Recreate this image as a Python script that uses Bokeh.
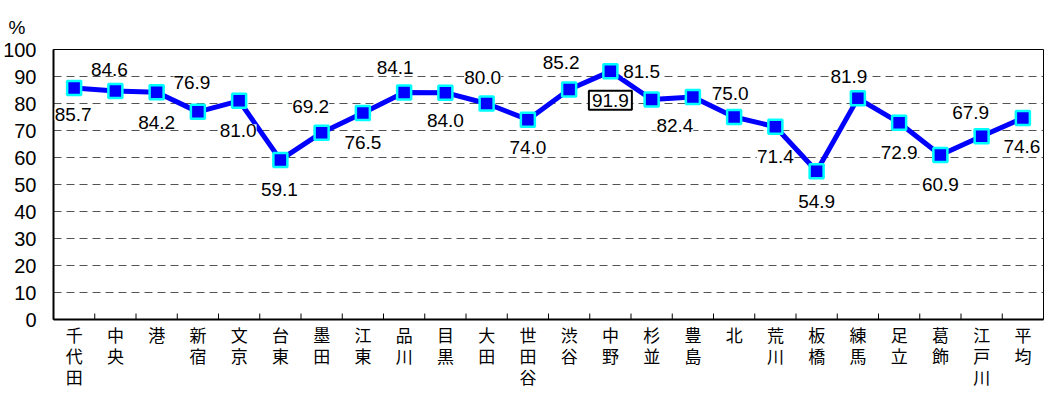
from bokeh.plotting import figure
from bokeh.models import ColumnDataSource, LabelSet, Label, Range1d, FixedTicker, LinearAxis
from bokeh.core.properties import value
from bokeh.embed import file_html
from bokeh.resources import INLINE

# ---- data ----
wards = ["千代田", "中央", "港", "新宿", "文京", "台東", "墨田", "江東", "品川", "目黒",
         "大田", "世田谷", "渋谷", "中野", "杉並", "豊島", "北", "荒川", "板橋", "練馬",
         "足立", "葛飾", "江戸川", "平均"]
rates = [85.7, 84.6, 84.2, 76.9, 81.0, 59.1, 69.2, 76.5, 84.1, 84.0,
         80.0, 74.0, 85.2, 91.9, 81.5, 82.4, 75.0, 71.4, 54.9, 81.9,
         72.9, 60.9, 67.9, 74.6]
y_ticks = [0, 10, 20, 30, 40, 50, 60, 70, 80, 90, 100]
y_unit = "%"
highlight = "中野"

# label placement (pixels, relative to point; positive dy = below)
label_dx = [-1, -6, 0, -6, -1, -1, -11, 0, -9, 0, -4, 0, -8, 0, -10, -18, -4, 0, 0, -9, 0, 0, -11, -1]
label_dy = [26, -22, 30, -29, 30, 30, -26, 30, -25, 28, -26, 28, -27, 29, -28, 28, -24, 30, 30, -22, 30, 29, -24, 28]

n = len(wards)
xs = [i + 0.5 for i in range(n)]

p = figure(width=1045, height=391, output_backend="svg", toolbar_location=None,
           x_range=Range1d(0, n), y_range=Range1d(0, 100),
           min_border_left=52, min_border_right=2, min_border_top=49, min_border_bottom=70)
p.background_fill_color = "white"
p.border_fill_color = "white"
p.outline_line_color = "#000000"
p.outline_line_width = 1

p.title.text = y_unit
p.title.align = "left"
p.title.offset = -45
p.title.standoff = 23
p.title.text_font = "Liberation Sans"
p.title.text_font_size = "19px"
p.title.text_font_style = "normal"
p.title.text_color = "black"

# grid
p.xgrid.visible = False
p.ygrid.ticker = FixedTicker(ticks=y_ticks)
p.ygrid.grid_line_color = "#555555"
p.ygrid.grid_line_dash = "8 5"
p.ygrid.grid_line_width = 1

# y axis
p.yaxis.ticker = FixedTicker(ticks=y_ticks)
p.yaxis.axis_line_width = 2
p.yaxis.axis_line_color = "black"
p.yaxis.major_tick_line_color = None
p.yaxis.minor_tick_line_color = None
p.yaxis.major_tick_out = 0
p.yaxis.major_tick_in = 0
p.yaxis.minor_tick_out = 0
p.yaxis.major_label_text_font = "Liberation Sans"
p.yaxis.major_label_text_font_size = "20px"
p.yaxis.major_label_text_color = "black"
p.yaxis.major_label_standoff = 17

# x axis: vertical labels, one axis row per character
def char_at(w, k):
    return w[k] if len(w) > k else " "

def style_x(ax, k, standoff):
    ax.ticker = FixedTicker(ticks=xs)
    ax.major_label_overrides = {x: char_at(w, k) for x, w in zip(xs, wards)}
    ax.major_tick_line_color = None
    ax.minor_tick_line_color = None
    ax.major_tick_out = 0
    ax.major_tick_in = 0
    ax.minor_tick_out = 0
    ax.minor_tick_in = 0
    ax.major_label_text_font = "Noto Sans CJK JP"
    ax.major_label_text_font_size = "17px"
    ax.major_label_text_color = "black"
    ax.major_label_standoff = standoff

ax1 = p.xaxis[0]
style_x(ax1, 0, 2)
ax1.axis_line_width = 2
ax1.axis_line_color = "black"
for k in (1, 2):
    ax = LinearAxis(axis_line_color=None)
    style_x(ax, k, -7)
    p.add_layout(ax, "below")

# boundary tick marks (inside, at category boundaries)
bx = list(range(1, n))
p.segment(x0=bx, x1=bx, y0=[0] * len(bx), y1=[2.2] * len(bx), line_color="black", line_width=1)

src = ColumnDataSource(dict(x=xs, y=rates, lab=[f"{v:.1f}" for v in rates],
                            dx=label_dx, dy=[-d for d in label_dy]))
p.line("x", "y", source=src, line_color="#0000FF", line_width=5)
p.scatter("x", "y", source=src, marker="square", size=14, fill_color="#0000FF",
          line_color="#00FFFF", line_width=2.5)

normal = [i for i, w in enumerate(wards) if w != highlight]
hi = wards.index(highlight)

lsrc = ColumnDataSource({k: [v[i] for i in normal] for k, v in src.data.items()})
ls = LabelSet(x="x", y="y", text="lab", source=lsrc, x_offset="dx", y_offset="dy",
              text_align="center", text_baseline="middle", text_font=value("Liberation Sans"),
              text_font_size="19px", text_color="black",
              background_fill_color="white")
p.add_layout(ls)

lb = Label(x=xs[hi], y=rates[hi], text=f"{rates[hi]:.1f}", x_offset=label_dx[hi], y_offset=-label_dy[hi],
           text_align="center", text_baseline="middle", text_font="Liberation Sans",
           text_font_size="19px", text_color="black",
           background_fill_color="white", border_line_color="black", border_line_width=2,
           padding=3)
p.add_layout(lb)

open("out.html", "w").write(file_html(p, INLINE))
